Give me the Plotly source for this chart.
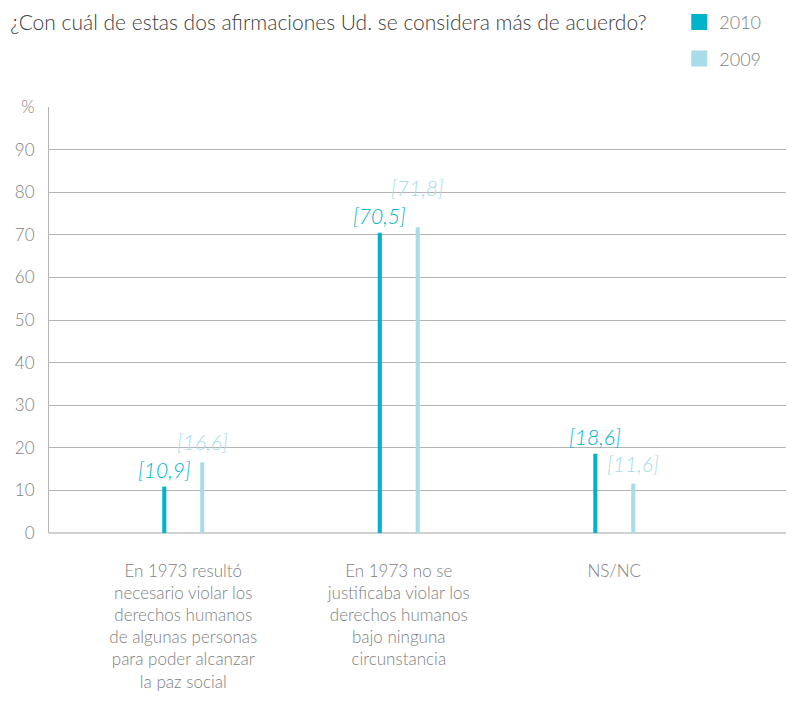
import plotly.graph_objects as go

categories = [
    'En 1973 resultó<br>necesario violar los<br>derechos humanos<br>de algunas personas<br>para poder alcanzar<br>la paz social',
    'En 1973 no se<br>justificaba violar los<br>derechos humanos<br>bajo ninguna<br>circunstancia',
    'NS/NC',
]
values_2010 = [10.9, 70.5, 18.6]
values_2009 = [16.6, 71.8, 11.6]
tick_vals = [0, 10, 20, 30, 40, 50, 60, 70, 80, 90, 100]
tick_text = ['0', '10', '20', '30', '40', '50', '60', '70', '80', '90', '%']

c2010 = '#00b3c9'
c2009 = '#a7dce8'
font_family = 'Lato, Open Sans, sans-serif'

# page has an 8px body margin, so the figure is drawn 8px smaller
W, H = 786, 699
bar_w = 0.019
half_gap = 0.088


def fmt(v):
    return '[' + f'{v:.1f}'.replace('.', ',') + ']'


fig = go.Figure()
fig.add_trace(go.Bar(
    x=categories, y=values_2010, name='2010',
    marker=dict(color=c2010, line=dict(width=0)),
    width=bar_w, offset=-half_gap - bar_w / 2, showlegend=False,
))
fig.add_trace(go.Bar(
    x=categories, y=values_2009, name='2009',
    marker=dict(color=c2009, line=dict(width=0)),
    width=bar_w, offset=half_gap - bar_w / 2, showlegend=False,
))
# legend entries (square swatches)
for name, col in [('2010', c2010), ('2009', c2009)]:
    fig.add_trace(go.Scatter(
        x=[None], y=[None], mode='markers', name=name, legendgroup=name,
        marker=dict(symbol='square', size=20, color=col),
    ))

# value labels above the bars; the 2009 one is lifted when it would hit the 2010 one
for i in range(len(categories)):
    a, b = values_2010[i], values_2009[i]
    fig.add_annotation(
        x=i, y=a, xref='x', yref='y', text=fmt(a), showarrow=False,
        xshift=-19, yshift=3, yanchor='bottom',
        font=dict(color=c2010, size=21, style='italic', family=font_family),
    )
    lift = 25 if abs(a - b) < 5 else 6
    fig.add_annotation(
        x=i, y=b, xref='x', yref='y', text=fmt(b), showarrow=False,
        xshift=19, yshift=lift, yanchor='bottom',
        font=dict(color=c2009, size=21, style='italic', family=font_family),
    )

fig.update_layout(
    width=W, height=H,
    margin=dict(l=41, r=0, t=99, b=174, autoexpand=False),
    paper_bgcolor='white', plot_bgcolor='white',
    barmode='overlay',
    font=dict(family=font_family, color='#808080', size=17, weight=300),
    title=dict(
        text='¿Con cuál de estas dos afirmaciones Ud. se considera más de acuerdo?',
        x=0.003, xanchor='left', y=0.979, yanchor='middle',
        font=dict(size=21, color='#404040', family=font_family, weight=300),
    ),
    legend=dict(
        x=0.846, xanchor='left', y=1.242, yanchor='top',
        font=dict(size=18, color='#808080', weight=300), traceorder='grouped',
        tracegroupgap=10, itemsizing='trace', bgcolor='rgba(0,0,0,0)',
    ),
    xaxis=dict(
        type='category', range=[-0.623, 2.834],
        showgrid=False, showline=False, ticks='', zeroline=False,
        tickfont=dict(size=17, color='#808080', weight=300), ticklabelstandoff=26,
    ),
    yaxis=dict(
        range=[0, 100], tickvals=tick_vals, ticktext=tick_text,
        showgrid=True, gridcolor='#b4b4b4', gridwidth=1,
        zeroline=True, zerolinecolor='#d0d0d0', zerolinewidth=2,
        showline=True, linecolor='#b4b4b4', linewidth=1,
        ticks='', tickfont=dict(size=17, color='#808080', weight=300), ticklabelstandoff=10,
    ),
)

fig.write_html('out.html')
